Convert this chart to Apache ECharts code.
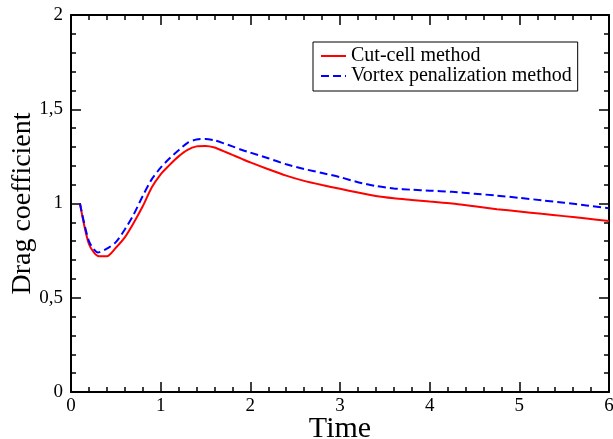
<!DOCTYPE html>
<html>
<head>
<meta charset="utf-8">
<script src="https://cdn.jsdelivr.net/npm/echarts@6/dist/echarts.min.js"></script>
<style>html,body{margin:0;padding:0;background:#fff}#c{width:613px;height:439px}</style>
</head>
<body>
<div id="c"></div>
<script>
var seriesNames = ['Cut-cell method', 'Vortex penalization method'];
var timeRed = [0.1,0.2,0.3,0.4,0.5,0.6,0.7,0.8,0.9,1.0,1.1,1.2,1.3,1.4,1.5,1.6,1.7,1.8,1.9,2.0,2.2,2.4,2.6,2.8,3.0,3.2,3.4,3.6,3.8,4.0,4.25,4.5,4.75,5.0,5.25,5.5,5.75,6.0];
var cutCell = [1.0,0.785,0.722,0.72,0.765,0.82,0.898,0.985,1.085,1.155,1.205,1.25,1.285,1.303,1.305,1.297,1.278,1.258,1.238,1.218,1.182,1.148,1.12,1.098,1.078,1.058,1.04,1.028,1.019,1.01,1.0,0.985,0.97,0.958,0.945,0.933,0.92,0.907];
var timeBlue = [0.1,0.2,0.3,0.4,0.5,0.6,0.7,0.8,0.9,1.0,1.1,1.2,1.3,1.4,1.5,1.6,1.7,1.8,1.9,2.0,2.2,2.4,2.6,2.8,3.0,3.2,3.4,3.6,3.8,4.0,4.25,4.5,4.75,5.0,5.25,5.5,5.75,6.0];
var vortex = [1.0,0.80,0.74,0.76,0.795,0.862,0.943,1.04,1.128,1.19,1.24,1.283,1.322,1.34,1.342,1.335,1.32,1.303,1.285,1.27,1.24,1.208,1.183,1.162,1.14,1.113,1.093,1.08,1.073,1.068,1.062,1.052,1.042,1.03,1.017,1.004,0.99,0.975];
var yTickLabels = {0:'0', 0.5:'0,5', 1:'1', 1.5:'1,5', 2:'2'};

function pairs(xs, ys){ return xs.map(function(x,i){return [x, ys[i]];}); }

var FONT = 'Liberation Serif';
var chart = echarts.init(document.getElementById('c'), null, {renderer:'canvas'});
var axisLineStyle = {color:'#000', width:2};
function xAx(pos, show){
  return {
    type:'value', position:pos, min:0, max:6, interval:1,
    axisLine:{show:true, onZero:false, lineStyle:axisLineStyle},
    axisTick:{show:true, inside:true, length:10, lineStyle:{color:'#000', width:1.5}},
    minorTick:{show:true, splitNumber:5, length:5, lineStyle:{color:'#000', width:1.5}},
    splitLine:{show:false},
    axisLabel:{show:show, color:'#000', fontFamily:FONT, fontSize:19, margin:5},
    name: show ? 'Time' : '', nameLocation:'middle', nameGap:22, nameMoveOverlap:false,
    nameTextStyle:{color:'#000', fontFamily:FONT, fontSize:30}
  };
}
function yAx(pos, show){
  return {
    type:'value', position:pos, min:0, max:2, interval:0.5,
    axisLine:{show:true, onZero:false, lineStyle:axisLineStyle},
    axisTick:{show:true, inside:true, length:10, lineStyle:{color:'#000', width:1.5}},
    minorTick:{show:true, splitNumber:5, length:5, lineStyle:{color:'#000', width:1.5}},
    splitLine:{show:false},
    axisLabel:{show:show, color:'#000', fontFamily:FONT, fontSize:19, margin:8,
      formatter:function(v){ return yTickLabels[v] !== undefined ? yTickLabels[v] : ''; }},
    name: show ? 'Drag coefficient' : '', nameLocation:'middle', nameGap:34, nameMoveOverlap:false,
    nameTextStyle:{color:'#000', fontFamily:FONT, fontSize:28}
  };
}
chart.setOption({
  animation:false,
  backgroundColor:'#fff',
  grid:{left:71, right:4, top:15, bottom:47, containLabel:false, outerBoundsMode:'none'},
  xAxis:[xAx('bottom', true), xAx('top', false)],
  yAxis:[yAx('left', true), yAx('right', false)],
  legend:{
    orient:'vertical', left:313, top:42,
    data:seriesNames,
    borderColor:'#000', borderWidth:1, padding:[4, 6, 5, 7],
    itemWidth:25, itemHeight:14, itemGap:0,
    itemStyle:{opacity:0},
    textStyle:{color:'#000', fontFamily:FONT, fontSize:20, lineHeight:20}
  },
  series:[
    {name:seriesNames[0], type:'line', data:pairs(timeRed, cutCell), symbol:'none', smooth:0.25,
      lineStyle:{color:'#ff0000', width:2}, itemStyle:{color:'#ff0000'}},
    {name:seriesNames[1], type:'line', data:pairs(timeBlue, vortex), symbol:'none', smooth:0.25,
      lineStyle:{color:'#0000ff', width:2, type:[8,4]}, itemStyle:{color:'#0000ff'}}
  ]
});
</script>
</body>
</html>
